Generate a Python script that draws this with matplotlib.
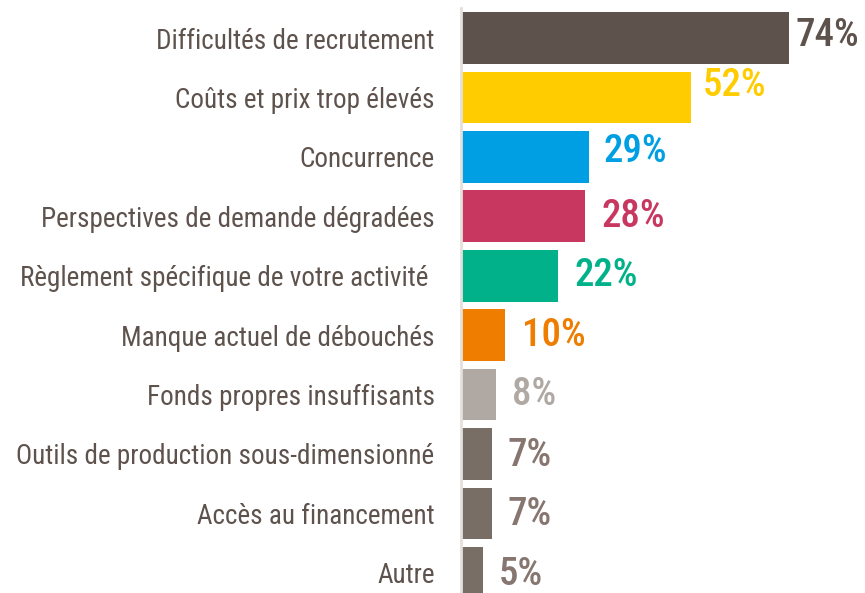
import matplotlib.pyplot as plt
from matplotlib import font_manager

# data
categories = ["Difficultés de recrutement", "Coûts et prix trop élevés", "Concurrence",
              "Perspectives de demande dégradées", "Règlement spécifique de votre activité ",
              "Manque actuel de débouchés", "Fonds propres insuffisants",
              "Outils de production sous-dimensionné", "Accès au financement", "Autre"]
values = [74, 52, 29, 28, 22, 10, 8, 7, 7, 5]
bar_colors = ["#5e524d", "#ffcc00", "#009fe3", "#c8375f", "#00b18a",
              "#ee7d00", "#b0a8a2", "#786e65", "#786e65", "#786e65"]
label_colors = ["#5e524d", "#ffcc00", "#009fe3", "#c8375f", "#00b18a",
                "#ee7d00", "#b0a8a2", "#87766f", "#87766f", "#87766f"]

# condensed font if there is one, else Roboto (narrowest of the installed ones)
names = {f.name for f in font_manager.fontManager.ttflist}
family = "DejaVu Sans"
for cand in ["Liberation Sans Narrow", "Roboto Condensed", "Arial Narrow", "Roboto", "Liberation Sans"]:
    if cand in names:
        family = cand
        break
plt.rcParams['font.family'] = [family, 'DejaVu Sans']

fig = plt.figure(figsize=(8.65, 5.93), dpi=100)
ax = fig.add_axes([461 / 865, 0, 1 - 461 / 865, 585 / 593])

ypos = list(range(len(categories)))
ax.barh(ypos, values, height=0.87, color=bar_colors)

# label placement as in the original (points): gap after the bar, shift up
gaps = [4.5, 8, 10, 11.5, 11.5, 12, 11, 11.5, 11.5, 11]
lifts = [1.5, 8.5, 3.5, 0, 0, 0, 0, -1, -1, -1.5]
for y, v, c, g, d in zip(ypos, values, label_colors, gaps, lifts):
    ax.annotate(f"{v}%", (v, y), xytext=(g, d), textcoords="offset points",
                va="center", ha="left", fontsize=28, fontweight="medium", color=c,
                annotation_clip=False)

ax.set_xlim(0, 91.2)
ax.set_ylim(9.34, -0.505)
ax.set_yticks(ypos)
ax.set_yticklabels(categories, fontsize=19.5, color="#5e524d")
ax.tick_params(axis="y", length=0, pad=19)
ax.set_xticks([])
for s in ["top", "right", "bottom"]:
    ax.spines[s].set_visible(False)
ax.spines["left"].set_color("#e3e0de")
ax.spines["left"].set_linewidth(2)

fig.savefig("out.png", dpi=100)
